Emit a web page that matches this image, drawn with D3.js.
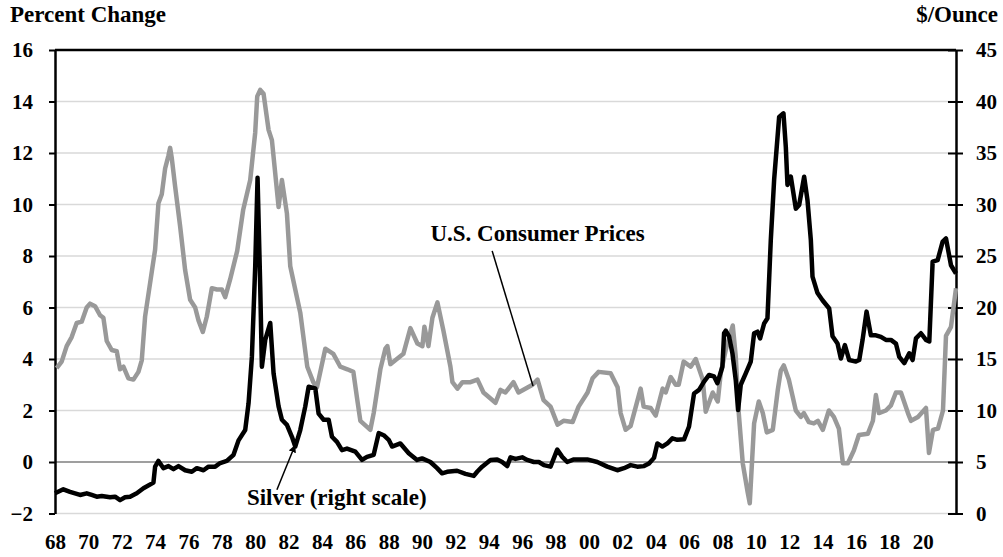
<!DOCTYPE html>
<html>
<head>
<meta charset="utf-8">
<script src="https://cdn.jsdelivr.net/npm/d3@7"></script>
<style>
  body { margin: 0; background: #fff; }
  svg text { font-family: "Liberation Serif", "Times New Roman", serif; font-weight: bold; fill: #000; }
</style>
</head>
<body>
<script>

// U.S. consumer prices, percent change (left scale)
const cpiYears = [
  1968.10, 1968.40, 1968.70, 1969.00, 1969.30, 1969.60, 1969.90, 1970.10, 1970.40, 1970.70,
  1970.90, 1971.10, 1971.40, 1971.70, 1971.90, 1972.10, 1972.40, 1972.70, 1973.00, 1973.20,
  1973.40, 1973.70, 1974.00, 1974.20, 1974.40, 1974.60, 1974.80, 1974.90, 1975.00, 1975.20,
  1975.50, 1975.80, 1976.10, 1976.40, 1976.60, 1976.86, 1977.10, 1977.40, 1977.70, 1978.00,
  1978.20, 1978.50, 1978.92, 1979.28, 1979.70, 1980.00, 1980.12, 1980.30, 1980.50, 1980.80,
  1981.00, 1981.40, 1981.60, 1981.90, 1982.10, 1982.70, 1983.12, 1983.48, 1983.70, 1984.20,
  1984.68, 1985.10, 1985.52, 1985.88, 1986.12, 1986.30, 1986.90, 1987.10, 1987.50, 1987.80,
  1987.92, 1988.10, 1988.88, 1989.30, 1989.72, 1990.02, 1990.14, 1990.38, 1990.62, 1990.92,
  1991.28, 1991.70, 1991.82, 1992.12, 1992.42, 1992.90, 1993.32, 1993.68, 1994.40, 1994.70,
  1995.00, 1995.48, 1995.78, 1996.62, 1996.92, 1997.28, 1997.70, 1998.12, 1998.48, 1999.02,
  1999.38, 1999.92, 2000.22, 2000.58, 2001.30, 2001.72, 2001.90, 2002.20, 2002.50, 2003.10,
  2003.28, 2003.70, 2004.00, 2004.42, 2004.60, 2004.90, 2005.20, 2005.38, 2005.68, 2006.10,
  2006.40, 2006.82, 2007.00, 2007.42, 2007.72, 2007.90, 2008.20, 2008.62, 2008.80, 2008.98,
  2009.22, 2009.52, 2009.64, 2009.90, 2010.18, 2010.42, 2010.66, 2011.02, 2011.32, 2011.50,
  2011.68, 2011.98, 2012.40, 2012.70, 2012.88, 2013.18, 2013.48, 2013.72, 2014.02, 2014.38,
  2014.68, 2014.98, 2015.22, 2015.52, 2015.88, 2016.18, 2016.72, 2017.02, 2017.20, 2017.38,
  2017.80, 2018.10, 2018.40, 2018.70, 2019.12, 2019.30, 2019.72, 2020.20, 2020.38, 2020.62,
  2020.92, 2021.22, 2021.40, 2021.70, 2022.00
];
const cpiValues = [
  3.65, 3.9, 4.5, 4.85, 5.4, 5.45, 6.0, 6.15, 6.05, 5.7,
  5.6, 4.7, 4.35, 4.3, 3.6, 3.7, 3.25, 3.2, 3.5, 3.95,
  5.65, 6.95, 8.25, 10.05, 10.4, 11.4, 11.9, 12.2, 11.8, 10.7,
  9.15, 7.45, 6.3, 6.0, 5.5, 5.05, 5.65, 6.75, 6.7, 6.7,
  6.4, 7.1, 8.2, 9.8, 10.95, 12.8, 14.2, 14.45, 14.3, 12.9,
  12.5, 9.9, 10.95, 9.65, 7.6, 5.8, 3.7, 3.1, 2.9, 4.4,
  4.2, 3.7, 3.6, 3.5, 2.4, 1.6, 1.25, 1.9, 3.6, 4.4,
  4.5, 3.8, 4.2, 5.2, 4.6, 4.5, 5.25, 4.5, 5.6, 6.2,
  5.1, 3.7, 3.1, 2.85, 3.1, 3.1, 3.2, 2.7, 2.3, 2.8,
  2.7, 3.1, 2.7, 3.0, 3.2, 2.4, 2.15, 1.45, 1.6, 1.55,
  2.15, 2.7, 3.25, 3.5, 3.45, 2.9, 1.9, 1.25, 1.4, 2.85,
  2.15, 2.1, 1.8, 2.85, 2.7, 3.3, 3.0, 3.0, 3.9, 3.7,
  4.0, 3.2, 1.95, 2.7, 2.35, 3.45, 4.35, 5.3, 4.1, 1.9,
  -0.05, -1.2, -1.6, 1.5, 2.35, 1.9, 1.15, 1.25, 2.8, 3.55,
  3.75, 3.2, 2.0, 1.75, 1.9, 1.55, 1.5, 1.6, 1.25, 2.0,
  1.75, 1.3, -0.05, -0.05, 0.45, 1.05, 1.1, 1.6, 2.6, 1.9,
  2.0, 2.2, 2.7, 2.7, 1.9, 1.6, 1.75, 2.1, 0.35, 1.25,
  1.3, 2.0, 4.9, 5.25, 6.75
];

// Silver price, $/ounce (right scale)
const silverYears = [
  1968.00, 1968.50, 1968.90, 1969.50, 1969.90, 1970.20, 1970.50, 1970.80, 1971.30, 1971.60,
  1971.90, 1972.20, 1972.50, 1972.90, 1973.30, 1973.90, 1974.00, 1974.20, 1974.50, 1974.80,
  1975.10, 1975.40, 1975.80, 1976.20, 1976.50, 1976.90, 1977.20, 1977.60, 1977.90, 1978.30,
  1978.70, 1979.00, 1979.40, 1979.60, 1979.80, 1980.00, 1980.14, 1980.30, 1980.40, 1980.60,
  1980.90, 1981.10, 1981.40, 1981.60, 1981.90, 1982.20, 1982.40, 1982.70, 1983.00, 1983.20,
  1983.60, 1983.80, 1984.10, 1984.40, 1984.60, 1984.90, 1985.20, 1985.50, 1986.00, 1986.40,
  1986.70, 1987.10, 1987.40, 1987.70, 1988.00, 1988.20, 1988.70, 1989.20, 1989.70, 1990.00,
  1990.50, 1990.90, 1991.20, 1991.50, 1992.10, 1992.60, 1993.10, 1993.30, 1993.60, 1994.10,
  1994.50, 1994.80, 1995.10, 1995.30, 1995.60, 1996.00, 1996.30, 1996.70, 1997.00, 1997.30,
  1997.70, 1998.10, 1998.40, 1998.70, 1999.10, 1999.50, 1999.90, 2000.50, 2001.10, 2001.70,
  2002.10, 2002.50, 2002.90, 2003.30, 2003.60, 2003.90, 2004.10, 2004.40, 2004.70, 2005.00,
  2005.30, 2005.70, 2006.00, 2006.30, 2006.60, 2006.90, 2007.20, 2007.50, 2007.70, 2008.00,
  2008.10, 2008.20, 2008.40, 2008.60, 2008.80, 2008.94, 2009.10, 2009.40, 2009.70, 2009.90,
  2010.10, 2010.26, 2010.50, 2010.70, 2010.90, 2011.10, 2011.40, 2011.66, 2011.80, 2011.90,
  2012.10, 2012.40, 2012.60, 2012.90, 2013.10, 2013.30, 2013.40, 2013.70, 2014.00, 2014.40,
  2014.60, 2014.90, 2015.10, 2015.34, 2015.60, 2016.00, 2016.20, 2016.40, 2016.64, 2016.90,
  2017.20, 2017.50, 2017.80, 2018.10, 2018.40, 2018.60, 2018.90, 2019.20, 2019.40, 2019.60,
  2019.90, 2020.20, 2020.40, 2020.60, 2020.90, 2021.20, 2021.40, 2021.70, 2022.00
];
const silverValues = [
  1.96, 2.35, 2.1, 1.8, 1.96, 1.8, 1.63, 1.7, 1.57, 1.63,
  1.3, 1.57, 1.63, 1.96, 2.45, 3.0, 4.55, 5.1, 4.4, 4.6,
  4.3, 4.6, 4.2, 4.05, 4.4, 4.2, 4.55, 4.55, 4.9, 5.1,
  5.7, 7.1, 8.1, 10.7, 15.2, 24.0, 32.6, 22.0, 14.25, 16.85,
  18.5, 13.6, 10.4, 9.1, 8.6, 7.45, 6.5, 8.1, 10.4, 12.3,
  12.15, 9.7, 9.1, 9.1, 7.45, 6.95, 6.15, 6.3, 6.0, 5.2,
  5.5, 5.7, 7.8, 7.6, 7.15, 6.5, 6.8, 5.85, 5.2, 5.35,
  5.0, 4.4, 3.9, 4.05, 4.15, 3.85, 3.65, 4.05, 4.55, 5.2,
  5.25, 5.0, 4.6, 5.45, 5.3, 5.45, 5.2, 5.0, 5.0, 4.7,
  4.55, 6.2, 5.5, 5.0, 5.25, 5.25, 5.25, 5.0, 4.55, 4.2,
  4.4, 4.7, 4.55, 4.6, 4.85, 5.4, 6.8, 6.5, 6.8, 7.3,
  7.15, 7.2, 8.45, 11.65, 12.0, 12.8, 13.45, 13.3, 12.65, 14.25,
  17.5, 17.75, 17.2, 15.55, 12.95, 10.05, 12.5, 13.6, 14.75, 17.5,
  17.65, 17.0, 18.45, 18.95, 26.55, 32.4, 38.5, 38.85, 35.6, 31.9,
  32.7, 29.6, 29.95, 32.7, 30.4, 26.55, 23.0, 21.4, 20.7, 19.9,
  17.2, 16.5, 15.05, 16.35, 14.9, 14.75, 14.9, 16.85, 19.6, 17.3,
  17.3, 17.15, 16.85, 16.85, 16.5, 15.2, 14.6, 15.55, 14.9, 17.0,
  17.5, 16.85, 16.7, 24.45, 24.6, 26.4, 26.7, 24.1, 23.3
];

const leftTicks = [-2, 0, 2, 4, 6, 8, 10, 12, 14, 16];
const rightTicks = [0, 5, 10, 15, 20, 25, 30, 35, 40, 45];
const yearTicks = d3.range(1968, 2021, 2);

const width = 1003;
const height = 557;
const margin = { top: 50, right: 47, bottom: 43.5, left: 55 };

const svg = d3.select('body').append('svg')
  .attr('width', width)
  .attr('height', height);

// scales
const x = d3.scaleLinear()
  .domain([1968, 2022])
  .range([margin.left, width - margin.right]);

const yLeft = d3.scaleLinear()
  .domain([-2, 16])
  .range([height - margin.bottom, margin.top]);

const yRight = d3.scaleLinear()
  .domain([0, 45])
  .range([height - margin.bottom, margin.top]);

// gridlines
svg.append('g')
  .selectAll('line')
  .data(leftTicks)
  .enter().append('line')
    .attr('x1', x.range()[0])
    .attr('x2', x.range()[1])
    .attr('y1', d => yLeft(d))
    .attr('y2', d => yLeft(d))
    .attr('stroke', d => d === 16 ? '#000' : (d === 0 ? '#7f7f7f' : '#d9d9d9'))
    .attr('stroke-width', d => d === 16 ? 2.5 : (d === 0 ? 1.6 : 1.3));

// left axis
const leftAxis = svg.append('g')
  .attr('transform', `translate(${margin.left},0)`)
  .call(d3.axisLeft(yLeft).tickValues(leftTicks).tickSize(6).tickSizeOuter(0).tickPadding(16));

leftAxis.select('.domain').attr('stroke', '#000').attr('stroke-width', 2.5);
leftAxis.selectAll('.tick line').attr('stroke', '#000').attr('stroke-width', 2);
leftAxis.selectAll('.tick text').style('font-size', '21px');

// right axis, ticks cross the axis line
const rightAxis = svg.append('g')
  .attr('transform', `translate(${width - margin.right},0)`)
  .call(d3.axisRight(yRight).tickValues(rightTicks).tickSize(7).tickSizeOuter(0).tickPadding(13));

rightAxis.select('.domain').attr('stroke', '#000').attr('stroke-width', 2.5);
rightAxis.selectAll('.tick line').attr('x1', -8).attr('stroke', '#000').attr('stroke-width', 2);
rightAxis.selectAll('.tick text').style('font-size', '21px');

// x axis labels only
const xAxis = svg.append('g')
  .attr('transform', `translate(0,${height - margin.bottom})`)
  .call(d3.axisBottom(x).tickValues(yearTicks).tickSize(0).tickPadding(21)
    .tickFormat(d => d3.format('02d')(d % 100)));

xAxis.select('.domain').remove();
xAxis.selectAll('.tick text').style('font-size', '21px');

// series
const cpiLine = d3.line()
  .x((d, i) => x(cpiYears[i]))
  .y(d => yLeft(d));

const silverLine = d3.line()
  .x((d, i) => x(silverYears[i]))
  .y(d => yRight(d));

svg.append('path')
  .datum(cpiValues)
  .attr('fill', 'none')
  .attr('stroke', '#999999')
  .attr('stroke-width', 4.5)
  .attr('stroke-linejoin', 'round')
  .attr('d', cpiLine);

svg.append('path')
  .datum(silverValues)
  .attr('fill', 'none')
  .attr('stroke', '#000')
  .attr('stroke-width', 4.5)
  .attr('stroke-linejoin', 'round')
  .attr('d', silverLine);

// titles
svg.append('text')
  .attr('x', 10)
  .attr('y', 22)
  .style('font-size', '23px')
  .text('Percent Change');

svg.append('text')
  .attr('x', 998)
  .attr('y', 22)
  .attr('text-anchor', 'end')
  .style('font-size', '23px')
  .text('$/Ounce');

// annotations
svg.append('defs').append('marker')
  .attr('id', 'arrow')
  .attr('viewBox', '0 0 10 10')
  .attr('refX', 9)
  .attr('refY', 5)
  .attr('markerWidth', 5)
  .attr('markerHeight', 5)
  .attr('orient', 'auto')
  .append('path')
    .attr('d', 'M0,0L10,5L0,10z')
    .attr('fill', '#000');

svg.append('line')
  .attr('x1', x(1994.2)).attr('y1', yLeft(8.2))
  .attr('x2', x(1996.65)).attr('y2', yLeft(2.95))
  .attr('stroke', '#000')
  .attr('stroke-width', 1.5);

svg.append('text')
  .attr('x', x(1990.5))
  .attr('y', yLeft(8.6))
  .style('font-size', '23px')
  .text('U.S. Consumer Prices');

svg.append('line')
  .attr('x1', x(1981.3)).attr('y1', yRight(2.3))
  .attr('x2', x(1982.38)).attr('y2', yRight(6.6))
  .attr('stroke', '#000')
  .attr('stroke-width', 1.5)
  .attr('marker-end', 'url(#arrow)');

svg.append('text')
  .attr('x', x(1979.5))
  .attr('y', yRight(0.83))
  .style('font-size', '23px')
  .text('Silver (right scale)');

</script>
</body>
</html>
